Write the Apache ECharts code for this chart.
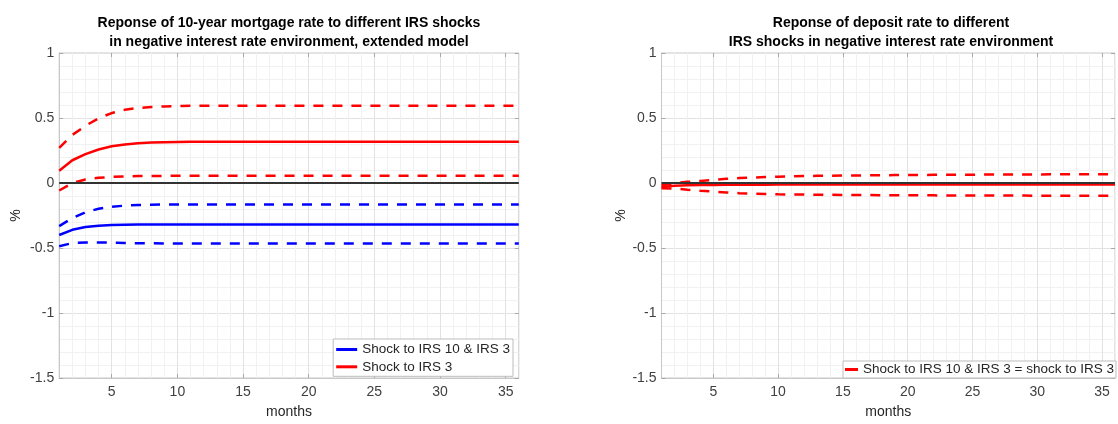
<!DOCTYPE html>
<html>
<head>
<meta charset="utf-8">
<title>IRS shock responses</title>
<script src="https://cdn.jsdelivr.net/npm/echarts@6/dist/echarts.min.js"></script>
<style>
  html, body { margin: 0; padding: 0; background: #ffffff; }
  #chart { width: 1118px; height: 424px; }
</style>
</head>
<body>
<div id="chart"></div>
<script>
// Horizon in months
const months = [1, 2, 3, 4, 5, 6, 7, 8, 9, 10, 11, 12, 13, 14, 15, 16, 17, 18,
                19, 20, 21, 22, 23, 24, 25, 26, 27, 28, 29, 30, 31, 32, 33, 34, 35, 36];
const xTickLabels = [5, 10, 15, 20, 25, 30, 35];

// 10-year mortgage rate, shock to IRS 10 & IRS 3 (median, upper, lower band)
const mortBothMid = [-0.400, -0.360, -0.338, -0.328, -0.323, -0.321, -0.320, -0.319, -0.319, -0.319,
                     -0.319, -0.319, -0.319, -0.319, -0.319, -0.319, -0.319, -0.319, -0.319, -0.319,
                     -0.319, -0.319, -0.319, -0.319, -0.319, -0.319, -0.319, -0.319, -0.319, -0.319,
                     -0.319, -0.319, -0.319, -0.319, -0.319, -0.319];
const mortBothHi  = [-0.332, -0.270, -0.225, -0.198, -0.183, -0.174, -0.169, -0.167, -0.166, -0.165,
                     -0.165, -0.165, -0.165, -0.165, -0.165, -0.165, -0.165, -0.165, -0.165, -0.165,
                     -0.165, -0.165, -0.165, -0.165, -0.165, -0.165, -0.165, -0.165, -0.165, -0.165,
                     -0.165, -0.165, -0.165, -0.165, -0.165, -0.165];
const mortBothLo  = [-0.486, -0.462, -0.457, -0.457, -0.459, -0.461, -0.463, -0.464, -0.465, -0.465,
                     -0.465, -0.465, -0.465, -0.465, -0.465, -0.465, -0.465, -0.465, -0.465, -0.465,
                     -0.465, -0.465, -0.465, -0.465, -0.465, -0.465, -0.465, -0.465, -0.465, -0.465,
                     -0.465, -0.465, -0.465, -0.465, -0.465, -0.465];

// 10-year mortgage rate, shock to IRS 3 only
const mort3Mid = [0.094, 0.175, 0.222, 0.258, 0.282, 0.297, 0.306, 0.311, 0.314, 0.316,
                  0.317, 0.318, 0.318, 0.318, 0.318, 0.318, 0.318, 0.318, 0.318, 0.318,
                  0.318, 0.318, 0.318, 0.318, 0.318, 0.318, 0.318, 0.318, 0.318, 0.318,
                  0.318, 0.318, 0.318, 0.318, 0.318, 0.318];
const mort3Hi  = [0.270, 0.370, 0.440, 0.498, 0.538, 0.563, 0.577, 0.585, 0.589, 0.592,
                  0.594, 0.595, 0.595, 0.595, 0.595, 0.595, 0.595, 0.595, 0.595, 0.595,
                  0.595, 0.595, 0.595, 0.595, 0.595, 0.595, 0.595, 0.595, 0.595, 0.595,
                  0.595, 0.595, 0.595, 0.595, 0.595, 0.595];
const mort3Lo  = [-0.058, 0.000, 0.027, 0.040, 0.047, 0.051, 0.053, 0.054, 0.055, 0.055,
                  0.055, 0.055, 0.055, 0.055, 0.055, 0.055, 0.055, 0.055, 0.055, 0.055,
                  0.055, 0.055, 0.055, 0.055, 0.055, 0.055, 0.055, 0.055, 0.055, 0.055,
                  0.055, 0.055, 0.055, 0.055, 0.055, 0.055];

// Deposit rate, shock to IRS 10 & IRS 3 (identical to shock to IRS 3)
const depMid = [-0.030, -0.022, -0.018, -0.016, -0.015, -0.014, -0.013, -0.013, -0.013, -0.012,
                -0.012, -0.012, -0.012, -0.012, -0.012, -0.012, -0.012, -0.012, -0.012, -0.012,
                -0.012, -0.012, -0.012, -0.012, -0.012, -0.012, -0.012, -0.012, -0.012, -0.012,
                -0.012, -0.012, -0.012, -0.012, -0.012, -0.012];
const depHi  = [-0.018, -0.002, 0.009, 0.016, 0.024, 0.032, 0.038, 0.042, 0.046, 0.049,
                0.051, 0.053, 0.055, 0.056, 0.057, 0.058, 0.059, 0.060, 0.061, 0.062,
                0.062, 0.063, 0.063, 0.064, 0.064, 0.065, 0.065, 0.066, 0.066, 0.066,
                0.067, 0.067, 0.067, 0.068, 0.068, 0.068];
const depLo  = [-0.040, -0.042, -0.052, -0.060, -0.066, -0.073, -0.078, -0.081, -0.084, -0.087,
                -0.088, -0.089, -0.090, -0.091, -0.092, -0.093, -0.093, -0.094, -0.094, -0.095,
                -0.095, -0.095, -0.096, -0.096, -0.096, -0.097, -0.097, -0.097, -0.097, -0.098,
                -0.098, -0.098, -0.098, -0.098, -0.098, -0.098];

// Zero reference line
const zeroLine = [0, 0];
const zeroMonths = [1, 36];

const FONT = '"Liberation Sans", Arial, Helvetica, sans-serif';
const RED = '#ff0000';
const BLUE = '#0000ff';
const MAJOR = '#e2e2e2';
const MINOR = '#f1f1f1';
const FRAME = '#c8c8c8';
const TICK = '#a8a8a8';

function pairs(xs, ys) { return xs.map((x, i) => [x, ys[i]]); }

// Main month axis: one split line per month, every fifth one stronger
function xAxisFor(gridIndex) {
  return {
    type: 'value', gridIndex, min: 1, max: 36, interval: 1, position: 'bottom',
    name: 'months', nameLocation: 'middle', nameGap: 27,
    nameTextStyle: { fontFamily: FONT, fontSize: 14, color: '#262626' },
    axisLine: { show: true, onZero: false, lineStyle: { color: FRAME, width: 1 } },
    axisTick: { show: false },
    axisLabel: {
      margin: 7, fontFamily: FONT, fontSize: 14, color: '#404040',
      formatter: v => (xTickLabels.indexOf(v) >= 0 ? String(v) : '')
    },
    splitLine: { show: true, lineStyle: { color: [MINOR, MINOR, MINOR, MINOR, MAJOR], width: 1 } }
  };
}

// Inward tick marks on the month axis (bottom and mirrored at the top)
function xTickAxis(gridIndex, position) {
  return {
    type: 'value', gridIndex, min: 1, max: 36, position,
    axisLine: { show: false, onZero: false },
    axisLabel: { show: false },
    splitLine: { show: false },
    axisTick: { show: true, inside: true, length: 4, customValues: xTickLabels, lineStyle: { color: TICK, width: 1 } }
  };
}

function yAxisFor(gridIndex, gap) {
  return {
    type: 'value', gridIndex, min: -1.5, max: 1, interval: 0.5, position: 'left',
    name: '%', nameLocation: 'middle', nameGap: gap, nameRotate: 90,
    nameTextStyle: { fontFamily: FONT, fontSize: 14, color: '#262626' },
    axisLine: { show: true, onZero: false, lineStyle: { color: FRAME, width: 1 } },
    axisTick: { show: true, inside: true, length: 4, lineStyle: { color: TICK, width: 1 } },
    axisLabel: { margin: 5, fontFamily: FONT, fontSize: 14, color: '#404040' },
    splitLine: { show: true, lineStyle: { color: MAJOR, width: 1 } },
    minorTick: { show: false, splitNumber: 5 },
    minorSplitLine: { show: true, lineStyle: { color: MINOR, width: 1 } }
  };
}

// Mirrored tick marks on the right edge of each panel
function yTickAxis(gridIndex) {
  return {
    type: 'value', gridIndex, min: -1.5, max: 1, interval: 0.5, position: 'right',
    axisLine: { show: false, onZero: false },
    axisLabel: { show: false },
    splitLine: { show: false },
    axisTick: { show: true, inside: true, length: 4, lineStyle: { color: TICK, width: 1 } }
  };
}

function lineSeries(name, xi, ys, color, dashed) {
  return {
    name, type: 'line', xAxisIndex: xi, yAxisIndex: xi,
    data: pairs(months, ys), showSymbol: false, symbol: 'none',
    lineStyle: { color, width: 2.5, type: dashed ? [10, 9] : 'solid' },
    itemStyle: { color },
    emphasis: { disabled: true }, silent: true
  };
}

function zeroSeries(xi) {
  return {
    name: 'zero' + xi, type: 'line', xAxisIndex: xi, yAxisIndex: xi,
    data: pairs(zeroMonths, zeroLine), showSymbol: false, symbol: 'none',
    lineStyle: { color: '#333333', width: 2 }, z: 3, silent: true
  };
}

const nameBoth = 'Shock to IRS 10 & IRS 3';
const name3 = 'Shock to IRS 3';
const nameDep = 'Shock to IRS 10 & IRS 3 = shock to IRS 3';

const chart = echarts.init(document.getElementById('chart'), null, { renderer: 'canvas' });
chart.setOption({
  animation: false,
  backgroundColor: '#ffffff',
  textStyle: { fontFamily: FONT },
  title: [
    {
      text: 'Reponse of 10-year mortgage rate to different IRS shocks\nin negative interest rate environment, extended model',
      left: 289, top: 13, textAlign: 'center', padding: 0,
      textStyle: { fontFamily: FONT, fontSize: 14, fontWeight: 'bold', color: '#000', lineHeight: 19.6 }
    },
    {
      text: 'Reponse of deposit rate to different\nIRS shocks in negative interest rate environment',
      left: 891, top: 13, textAlign: 'center', padding: 0,
      textStyle: { fontFamily: FONT, fontSize: 14, fontWeight: 'bold', color: '#000', lineHeight: 19.6 }
    }
  ],
  grid: [
    { left: 59.2, top: 53, width: 459.6, height: 329, show: true, borderColor: FRAME, borderWidth: 1, backgroundColor: 'transparent' },
    { left: 661.5, top: 53, width: 459.6, height: 329, show: true, borderColor: FRAME, borderWidth: 1, backgroundColor: 'transparent' }
  ],
  xAxis: [xAxisFor(0), xAxisFor(1), xTickAxis(0, 'top'), xTickAxis(1, 'top'), xTickAxis(0, 'bottom'), xTickAxis(1, 'bottom')],
  yAxis: [yAxisFor(0, 36), yAxisFor(1, 31), yTickAxis(0), yTickAxis(1)],
  legend: [
    {
      data: [nameBoth, name3], orient: 'vertical', right: 605, top: 339,
      padding: [2.5, 3, 1.5, 3], itemGap: 1.3, itemWidth: 21, itemHeight: 3, icon: 'rect',
      backgroundColor: '#ffffff', borderColor: '#bdbdbd', borderWidth: 1, selectedMode: false,
      textStyle: { fontFamily: FONT, fontSize: 13.5, color: '#262626', lineHeight: 16 }
    },
    {
      data: [nameDep], orient: 'vertical', right: 2, top: 361,
      padding: [0.5, 2, 0.5, 2], itemWidth: 13, itemHeight: 3, icon: 'rect',
      backgroundColor: '#ffffff', borderColor: '#bdbdbd', borderWidth: 1, selectedMode: false,
      textStyle: { fontFamily: FONT, fontSize: 13.5, color: '#262626', lineHeight: 16 }
    }
  ],
  series: [
    lineSeries(nameBoth, 0, mortBothMid, BLUE, false),
    lineSeries('IRS 10 & IRS 3 upper', 0, mortBothHi, BLUE, true),
    lineSeries('IRS 10 & IRS 3 lower', 0, mortBothLo, BLUE, true),
    lineSeries(name3, 0, mort3Mid, RED, false),
    lineSeries('IRS 3 upper', 0, mort3Hi, RED, true),
    lineSeries('IRS 3 lower', 0, mort3Lo, RED, true),
    zeroSeries(0),
    lineSeries(nameDep, 1, depMid, RED, false),
    lineSeries('deposit upper', 1, depHi, RED, true),
    lineSeries('deposit lower', 1, depLo, RED, true),
    zeroSeries(1)
  ]
});
</script>
</body>
</html>
